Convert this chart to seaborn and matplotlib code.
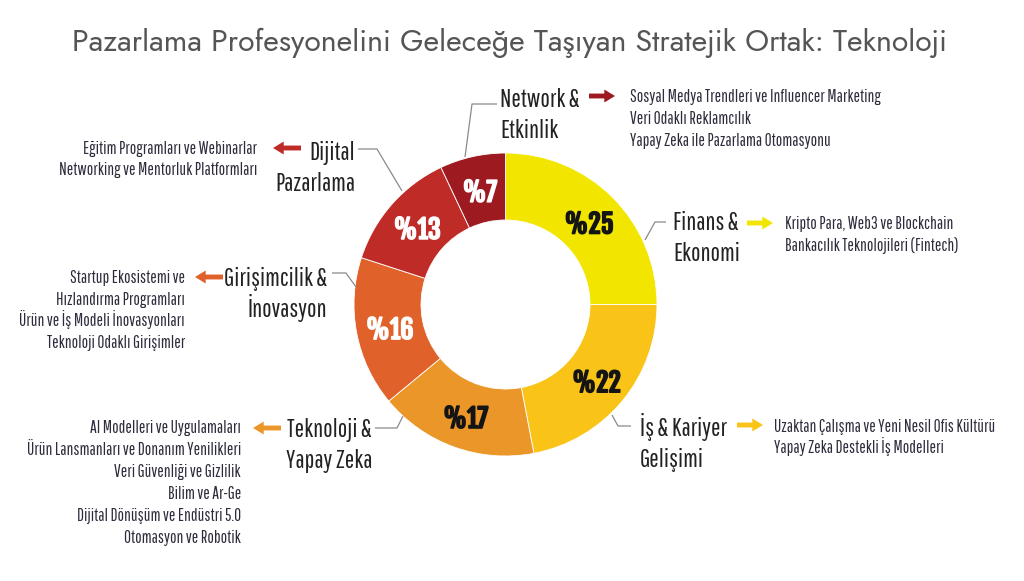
import matplotlib
matplotlib.use("Agg")
import matplotlib.pyplot as plt
from matplotlib import font_manager as fm
from matplotlib.patches import FancyArrowPatch, ArrowStyle
import matplotlib.patheffects as pe
import seaborn as sns

# ---------------- data ----------------
title = "Pazarlama Profesyonelini Geleceğe Taşıyan Stratejik Ortak: Teknoloji"
categories = ["Finans &\nEkonomi", "İş & Kariyer\nGelişimi", "Teknoloji &\nYapay Zeka",
              "Girişimcilik &\nİnovasyon", "Dijital\nPazarlama", "Network &\nEtkinlik"]
shares = [25, 22, 17, 16, 13, 7]
colors = ["#F2E600", "#F9C417", "#EB9628", "#E0622A", "#BF2B27", "#9D1B20"]
pct_colors = ["#141414", "#141414", "#141414", "#FFFFFF", "#FFFFFF", "#FFFFFF"]
details = [
    ["Kripto Para, Web3 ve Blockchain", "Bankacılık Teknolojileri (Fintech)"],
    ["Uzaktan Çalışma ve Yeni Nesil Ofis Kültürü", "Yapay Zeka Destekli İş Modelleri"],
    ["AI Modelleri ve Uygulamaları", "Ürün Lansmanları ve Donanım Yenilikleri",
     "Veri Güvenliği ve Gizlilik", "Bilim ve Ar-Ge", "Dijital Dönüşüm ve Endüstri 5.0",
     "Otomasyon ve Robotik"],
    ["Startup Ekosistemi ve", "Hızlandırma Programları", "Ürün ve İş Modeli İnovasyonları",
     "Teknoloji Odaklı Girişimler"],
    ["Eğitim Programları ve Webinarlar", "Networking ve Mentorluk Platformları"],
    ["Sosyal Medya Trendleri ve Influencer Marketing", "Veri Odaklı Reklamcılık",
     "Yapay Zeka ile Pazarlama Otomasyonu"],
]

# ---------------- layout (pixel positions, origin top-left) ----------------
W, H = 1024, 581
CENTER = (505.5, 304.5)
R_OUT, R_IN = 151.5, 84.5
label_pos = [(673, 230, "left"), (640, 436, "left"), (372, 437, "right"),
             (327, 286, "right"), (355, 160, "right"), (500, 107, "left")]
LABEL_STEP = 31
detail_pos = [(785, 229, "left", 22), (774, 432, "left", 21.5), (241, 433, "right", 22),
              (185, 283, "right", 21.7), (257, 154, "right", 21), (630, 102, "left", 22)]
arrow_pos = [((747, 223), (773, 223)), ((737, 425), (763, 425)), ((281, 428), (253, 428)),
             ((223, 277), (195, 277)), ((301, 148), (273, 148)), ((589, 96), (615, 96))]
leaders = [[(645, 240), (655, 222), (666, 222)],
           [(612, 415), (618, 426), (631, 426)],
           [(403, 416), (397, 428), (375, 428)],
           [(356, 287), (346, 273), (332, 273)],
           [(402, 191), (377, 149), (358, 149)],
           [(465, 157), (472, 104), (497, 104)]]

def Y(y):
    return H - y

# ---------------- fonts ----------------
sns.set_theme(style="white")
avail = {f.name for f in fm.fontManager.ttflist}

def pick(cands):
    for c in cands:
        if c in avail:
            return c
    return "DejaVu Sans"

COND = pick(["Pathway Gothic One", "Barlow Condensed", "Roboto Condensed", "DejaVu Sans"])
BOLDC = pick(["Fjalla One", "Barlow Condensed", "Roboto Condensed", "DejaVu Sans"])
TITLEF = pick(["Jost", "Josefin Sans", "Didact Gothic", "Lato", "DejaVu Sans"])
plt.rcParams["font.family"] = [COND, "DejaVu Sans"]

fig = plt.figure(figsize=(W / 100, H / 100), dpi=100)
fig.patch.set_facecolor("white")
ax = fig.add_axes([0, 0, 1, 1])

wedges, texts, autotexts = ax.pie(
    shares, colors=colors, startangle=90, counterclock=False,
    radius=R_OUT, center=(CENTER[0], Y(CENTER[1])),
    wedgeprops=dict(width=R_OUT - R_IN, linewidth=0.6, edgecolor="white"),
    autopct=lambda p: "%{:.0f}".format(p), pctdistance=(R_OUT + R_IN) / 2 / R_OUT,
    frame=True)
ax.set_xlim(0, W)
ax.set_ylim(0, H)
ax.set_aspect("auto")
ax.axis("off")

renderer = fig.canvas.get_renderer()

def fit_size(sample, target_w, **kw):
    t = ax.text(0, 0, sample, fontsize=10, **kw)
    w = t.get_window_extent(renderer).width
    t.remove()
    return 10 * target_w / w

pct_size = fit_size("%25", 49, family=[BOLDC], weight=800)
label_size = fit_size("Girişimcilik &", 103, family=[COND])
detail_size = fit_size("Sosyal Medya Trendleri ve Influencer Marketing", 249, family=[COND])
title_size = fit_size(title, 870, family=[TITLEF], weight="light")

for t, c in zip(autotexts, pct_colors):
    x, y = t.get_position()
    t.set_position((x, y - 12.5))
    t.set_va("baseline")
    t.set_color(c)
    t.set_fontsize(pct_size)
    t.set_fontweight(800)
    t.set_family([BOLDC, "DejaVu Sans"])
    t.set_path_effects([pe.withStroke(linewidth=1.1, foreground=c)])

ax.text(W / 2 - 2, Y(51), title, ha="center", va="baseline", fontsize=title_size,
        family=[TITLEF, "DejaVu Sans"], weight="light", color="#555555")

for i, cat in enumerate(categories):
    lx, ly, la = label_pos[i]
    for j, line in enumerate(cat.split("\n")):
        ax.text(lx, Y(ly + j * LABEL_STEP), line, ha=la, va="baseline",
                fontsize=label_size, color="#222222")
    dx, dy, da, ds = detail_pos[i]
    for j, line in enumerate(details[i]):
        ax.text(dx, Y(dy + j * ds), line, ha=da, va="baseline",
                fontsize=detail_size, color="#2E2B3C")
    (tx, ty), (hx, hy) = arrow_pos[i]
    ax.add_patch(FancyArrowPatch((tx, Y(ty)), (hx, Y(hy)),
                                 arrowstyle=ArrowStyle.Simple(head_length=0.7, head_width=0.85,
                                                              tail_width=0.32),
                                 mutation_scale=11, color=colors[i], shrinkA=0, shrinkB=0,
                                 linewidth=0))
    pts = leaders[i]
    ax.plot([p[0] for p in pts], [Y(p[1]) for p in pts], color="#8A8A8A", lw=0.9,
            solid_capstyle="butt")

fig.savefig("out.png", dpi=100, facecolor="white")
